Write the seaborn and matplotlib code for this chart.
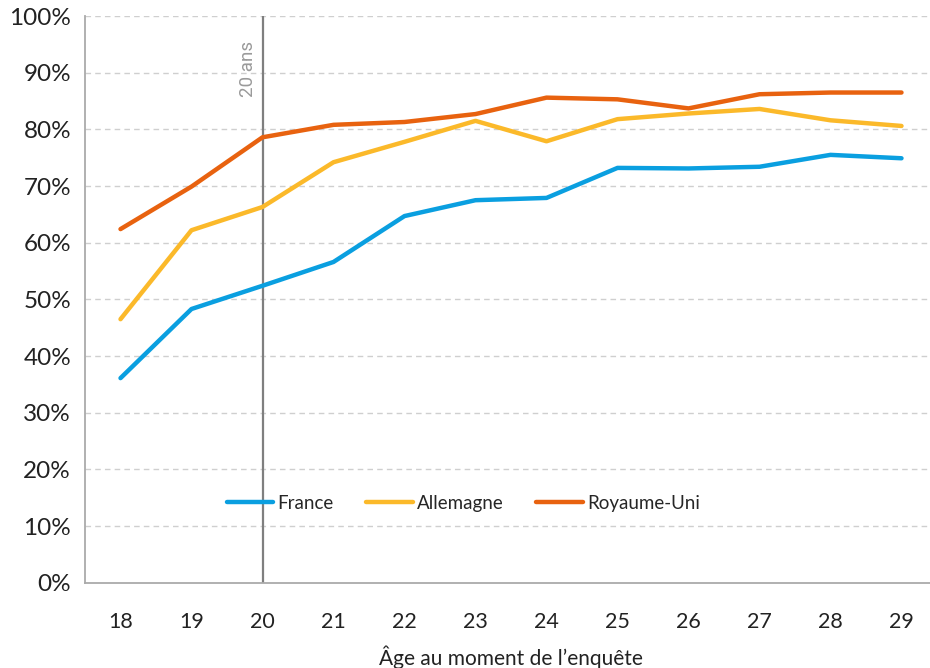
import numpy as np
import pandas as pd
import matplotlib
matplotlib.use('Agg')
import matplotlib.pyplot as plt
import seaborn as sns

ages = [18, 19, 20, 21, 22, 23, 24, 25, 26, 27, 28, 29]
france = [36.1, 48.3, 52.4, 56.6, 64.7, 67.5, 67.9, 73.2, 73.1, 73.4, 75.5, 74.9]
allemagne = [46.5, 62.2, 66.3, 74.2, 77.8, 81.5, 77.9, 81.8, 82.8, 83.6, 81.6, 80.6]
royaume_uni = [62.4, 69.9, 78.6, 80.8, 81.3, 82.7, 85.6, 85.3, 83.7, 86.2, 86.5, 86.5]
countries = ['France', 'Allemagne', 'Royaume-Uni']
colors = ['#0A9FE0', '#FBB92A', '#E8620F']
y_ticks = [0, 10, 20, 30, 40, 50, 60, 70, 80, 90, 100]

sns.set_style('white')
plt.rcParams['font.family'] = ['Lato', 'DejaVu Sans']

# long-form table, x as category index
pos = np.arange(len(ages))
df = pd.concat([
    pd.DataFrame({'pos': pos, 'val': vals, 'pays': name})
    for name, vals in zip(countries, [france, allemagne, royaume_uni])
])

fig = plt.figure(figsize=(9.3, 6.68), dpi=100)
ax = fig.add_axes([85 / 930, 0.1277, 852 / 930, 0.8483])

# grid
for y in y_ticks[1:]:
    ax.axhline(y, color='#CFCFCF', lw=1, ls=(0, (4, 3)), zorder=0)

# 20 ans marker
ax.axvline(2, color='#7F7F7F', lw=1.6, zorder=1)
ax.text(1.79, 90.6, '20 ans', rotation=90, ha='center', va='center',
        color='#9A9A9A', fontsize=13.5, family=['Roboto', 'DejaVu Sans'])

sns.lineplot(data=df, x='pos', y='val', hue='pays', hue_order=countries,
             palette=colors, lw=3.2, ax=ax, zorder=3)

ax.set_xlim(-0.5, len(ages) - 0.5)
ax.set_ylim(0, 100)
ax.set_yticks(y_ticks)
ax.set_yticklabels([f'{v}%' for v in y_ticks], fontsize=17.5, color='#222222')
ax.set_xticks(pos)
ax.set_xticklabels([str(a) for a in ages], fontsize=15.5, color='#222222')
ax.set_xticks(pos[:-1] + 0.5, minor=True)
ax.tick_params(axis='x', which='major', length=0, pad=21)
ax.tick_params(axis='x', which='minor', direction='in', length=9.5, color='#AAAAAA', width=1.2)
ax.tick_params(axis='y', length=0, pad=10)

for s in ['top', 'right']:
    ax.spines[s].set_visible(False)
for s in ['left', 'bottom']:
    ax.spines[s].set_color('#AAAAAA')
    ax.spines[s].set_linewidth(1.3)

ax.set_xlabel("Âge au moment de l’enquête", fontsize=15, color='#222222', labelpad=10)
ax.set_ylabel('')

ax.legend(loc='center', bbox_to_anchor=(0.444, 0.14), ncol=3, frameon=False,
          fontsize=13.5, handlelength=2.5, handletextpad=0.2, columnspacing=1.75)

fig.savefig('out.png', dpi=100)
